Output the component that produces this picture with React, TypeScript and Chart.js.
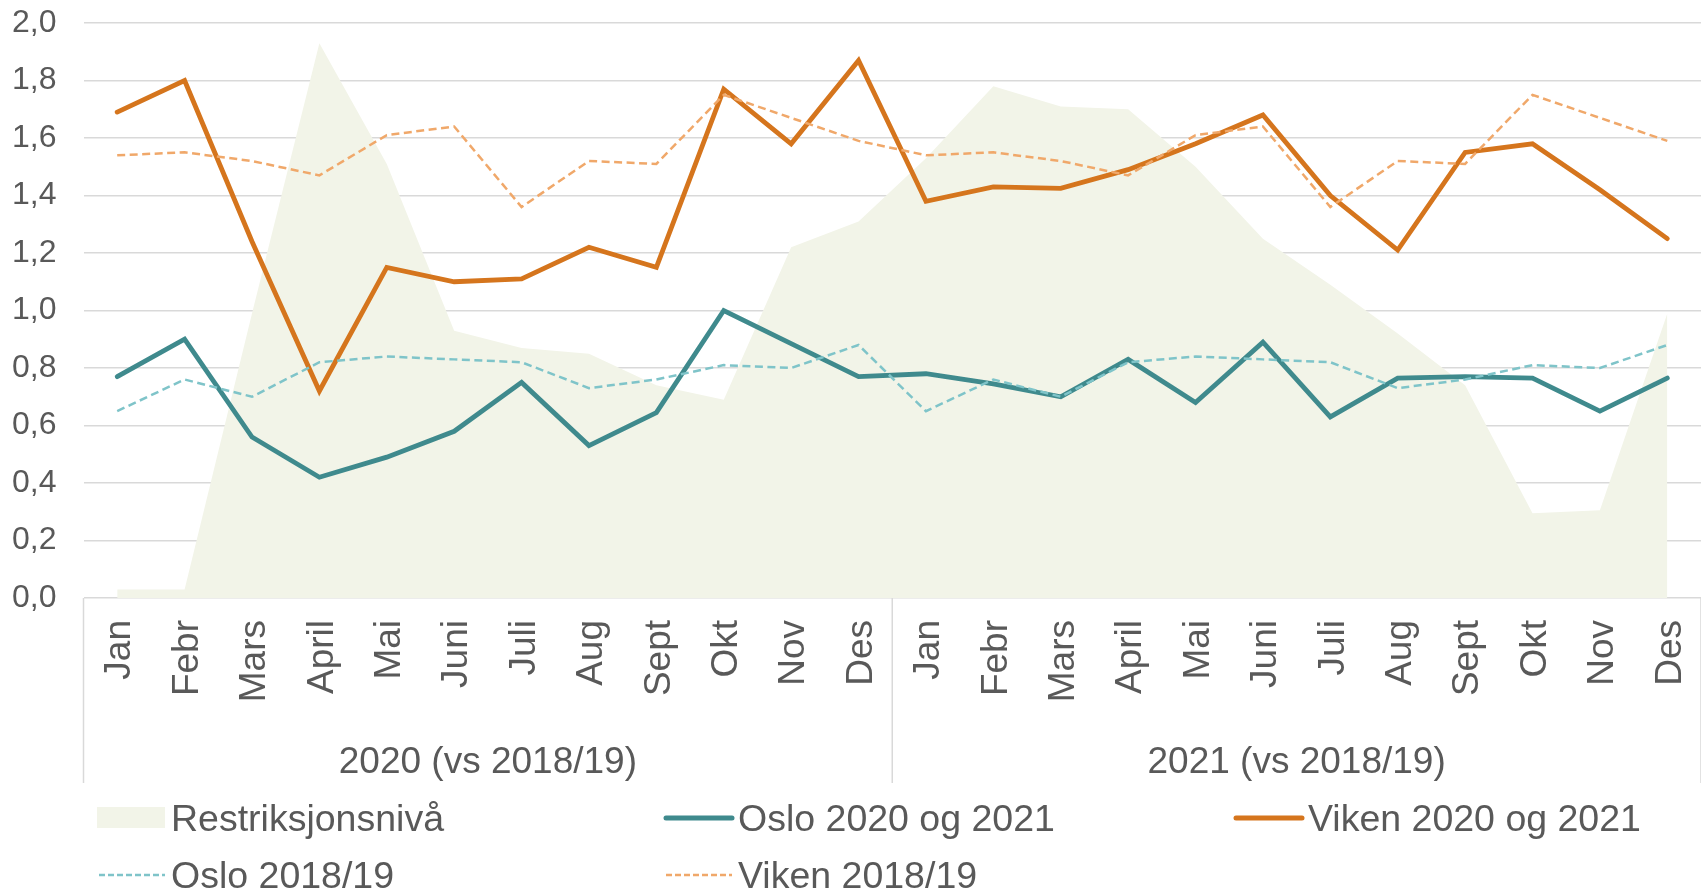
import React, { useEffect, useRef } from 'react';
import { Chart, registerables } from 'chart.js';

Chart.register(...registerables);

// ---------- data ----------
const categories = [
  'Jan', 'Febr', 'Mars', 'April', 'Mai', 'Juni', 'Juli', 'Aug', 'Sept', 'Okt', 'Nov', 'Des',
  'Jan', 'Febr', 'Mars', 'April', 'Mai', 'Juni', 'Juli', 'Aug', 'Sept', 'Okt', 'Nov', 'Des',
];
const groupLabels = ['2020 (vs 2018/19)', '2021 (vs 2018/19)'];

const restriksjonsniva = [
  0.03, 0.03, 0.99, 1.93, 1.51, 0.93, 0.87, 0.85, 0.74, 0.69, 1.22, 1.31,
  1.53, 1.78, 1.71, 1.70, 1.50, 1.25, 1.09, 0.92, 0.74, 0.295, 0.305, 0.99,
];
const oslo2020og2021 = [
  0.77, 0.90, 0.56, 0.42, 0.49, 0.58, 0.75, 0.53, 0.645, 1.00, 0.885, 0.77,
  0.78, 0.745, 0.70, 0.83, 0.68, 0.89, 0.63, 0.765, 0.77, 0.765, 0.65, 0.765,
];
const viken2020og2021 = [
  1.69, 1.80, 1.24, 0.72, 1.15, 1.10, 1.11, 1.22, 1.15, 1.77, 1.58, 1.87,
  1.38, 1.43, 1.425, 1.49, 1.58, 1.68, 1.40, 1.21, 1.55, 1.58, 1.42, 1.25,
];
const oslo2018_19 = [
  0.65, 0.76, 0.70, 0.82, 0.84, 0.83, 0.82, 0.73, 0.76, 0.81, 0.80, 0.88,
  0.65, 0.76, 0.70, 0.82, 0.84, 0.83, 0.82, 0.73, 0.76, 0.81, 0.80, 0.88,
];
const viken2018_19 = [
  1.54, 1.55, 1.52, 1.47, 1.61, 1.64, 1.36, 1.52, 1.51, 1.75, 1.67, 1.59,
  1.54, 1.55, 1.52, 1.47, 1.61, 1.64, 1.36, 1.52, 1.51, 1.75, 1.67, 1.59,
];

const yMin = 0;
const yMax = 2;
const yStep = 0.2;

// ---------- styles ----------
const FONT = '"Liberation Sans", Arial, Helvetica, sans-serif';
const TEXT = '#595959';
const GRID = '#d9d9d9';
const AREA = '#f2f4e8';
const TEAL = '#3f8a8d';
const ORANGE = '#d5751d';
const TEAL_LIGHT = '#7fc4c9';
const ORANGE_LIGHT = '#f0a86a';

const decorPlugin = {
  id: 'decor',
  afterDraw(chart: any) {
    const ctx = chart.ctx as CanvasRenderingContext2D;
    const x = chart.scales.x;
    const area = chart.chartArea;
    const n = categories.length;
    const half = n / 2;
    const mid = (x.getPixelForValue(half - 1) + x.getPixelForValue(half)) / 2;
    const bounds = [area.left, mid, area.right];

    ctx.save();
    // group separators
    ctx.strokeStyle = GRID;
    ctx.lineWidth = 1.5;
    bounds.forEach((px) => {
      ctx.beginPath();
      ctx.moveTo(px, area.bottom);
      ctx.lineTo(px, area.bottom + 185);
      ctx.stroke();
    });

    // group labels
    ctx.fillStyle = TEXT;
    ctx.font = `37px ${FONT}`;
    ctx.textAlign = 'center';
    ctx.textBaseline = 'alphabetic';
    groupLabels.forEach((g, i) => {
      ctx.fillText(g, (bounds[i] + bounds[i + 1]) / 2, area.bottom + 175);
    });

    // legend (3 columns grid)
    const colX = [97, 664, 1234];
    const rowBase = [831, 888];
    const ds = chart.data.datasets;
    ds.forEach((d: any, i: number) => {
      const cx = colX[i % 3];
      const base = rowBase[Math.floor(i / 3)];
      const cy = base - 13;
      if (d.fill) {
        ctx.fillStyle = d.backgroundColor;
        ctx.fillRect(cx, cy - 11, 68, 21);
      } else {
        ctx.beginPath();
        ctx.strokeStyle = d.borderColor;
        if (d.borderDash && d.borderDash.length) {
          ctx.lineWidth = 2.5;
          ctx.setLineDash([6, 3]);
          ctx.lineCap = 'butt';
        } else {
          ctx.lineWidth = 5;
          ctx.setLineDash([]);
          ctx.lineCap = 'round';
        }
        ctx.moveTo(cx + 2, cy);
        ctx.lineTo(cx + 68, cy);
        ctx.stroke();
        ctx.setLineDash([]);
      }
      ctx.fillStyle = TEXT;
      ctx.font = `37.5px ${FONT}`;
      ctx.textAlign = 'left';
      ctx.textBaseline = 'alphabetic';
      ctx.fillText(d.label, cx + 74, base);
    });
    ctx.restore();
  },
};

export default function App() {
  const ref = useRef<HTMLCanvasElement | null>(null);

  useEffect(() => {
    if (!ref.current) return;
    const chart = new Chart(ref.current, {
      type: 'line',
      data: {
        labels: categories,
        datasets: [
          {
            label: 'Restriksjonsnivå',
            data: restriksjonsniva,
            backgroundColor: AREA,
            borderColor: AREA,
            borderWidth: 0,
            fill: 'origin',
            pointRadius: 0,
            tension: 0,
            order: 10,
          },
          {
            label: 'Oslo 2020 og 2021',
            data: oslo2020og2021,
            borderColor: TEAL,
            backgroundColor: TEAL,
            borderWidth: 4.8,
            fill: false,
            pointRadius: 0,
            tension: 0,
            borderCapStyle: 'round',
            borderJoinStyle: 'miter',
            order: 4,
          },
          {
            label: 'Viken 2020 og 2021',
            data: viken2020og2021,
            borderColor: ORANGE,
            backgroundColor: ORANGE,
            borderWidth: 4.8,
            fill: false,
            pointRadius: 0,
            tension: 0,
            borderCapStyle: 'round',
            borderJoinStyle: 'miter',
            order: 3,
          },
          {
            label: 'Oslo 2018/19',
            data: oslo2018_19,
            borderColor: TEAL_LIGHT,
            backgroundColor: TEAL_LIGHT,
            borderWidth: 2.5,
            borderDash: [8, 4.5],
            fill: false,
            pointRadius: 0,
            tension: 0,
            order: 2,
          },
          {
            label: 'Viken 2018/19',
            data: viken2018_19,
            borderColor: ORANGE_LIGHT,
            backgroundColor: ORANGE_LIGHT,
            borderWidth: 2.5,
            borderDash: [8, 4.5],
            fill: false,
            pointRadius: 0,
            tension: 0,
            order: 1,
          },
        ],
      },
      options: {
        responsive: false,
        animation: false,
        layout: { padding: { top: 23, bottom: 102, left: 0, right: 0 } },
        plugins: {
          legend: { display: false },
          tooltip: { enabled: false },
        },
        scales: {
          x: {
            type: 'category',
            offset: true,
            grid: { display: false, drawTicks: false },
            border: { display: false },
            ticks: {
              autoSkip: false,
              minRotation: 90,
              maxRotation: 90,
              padding: 22,
              labelOffset: 3,
              color: TEXT,
              font: { size: 37, family: FONT },
            },
            afterFit: (s: any) => {
              s.height = 190;
              s.paddingLeft = 0;
              s.paddingRight = 0;
            },
          },
          y: {
            min: yMin,
            max: yMax,
            ticks: {
              stepSize: yStep,
              padding: 27,
              color: TEXT,
              font: { size: 32, family: FONT },
              callback: (v: any) => Number(v).toFixed(1).replace('.', ','),
            },
            grid: { color: GRID, lineWidth: 1.5, drawTicks: false },
            border: { display: false },
            afterFit: (s: any) => {
              s.width = 83.5;
              s.paddingTop = 0;
              s.paddingBottom = 0;
            },
          },
        },
      },
      plugins: [decorPlugin],
    });
    return () => chart.destroy();
  }, []);

  return (
    <div style={{ position: 'absolute', left: 0, top: 0, width: 1701, height: 890, background: '#fff' }}>
      <canvas ref={ref} width={1701} height={890} style={{ display: 'block', width: 1701, height: 890 }} />
    </div>
  );
}
